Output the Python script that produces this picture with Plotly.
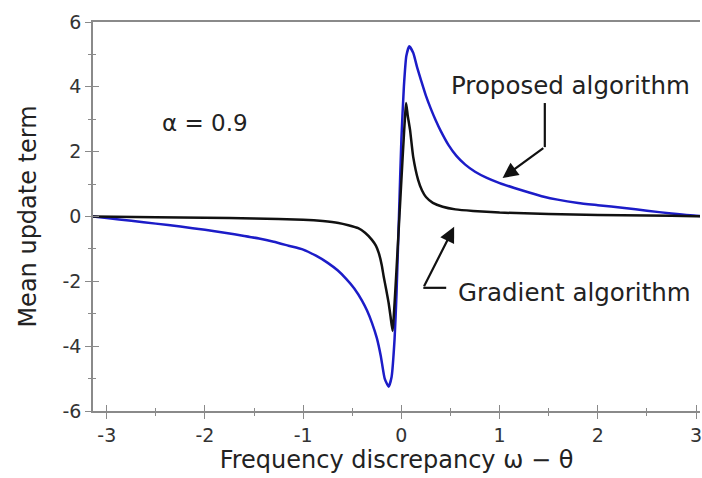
import plotly.graph_objects as go

# Proposed algorithm (blue)
x_proposed = [-3.14, -3.0, -2.75, -2.5, -2.25, -2.0, -1.8, -1.6, -1.45, -1.3, -1.15, -1.0,
              -0.87, -0.75, -0.65, -0.56, -0.48, -0.4, -0.35, -0.3, -0.25, -0.21, -0.17,
              -0.13, -0.1, -0.07, -0.05, -0.025, 0.0, 0.025, 0.05, 0.08, 0.12, 0.16, 0.2,
              0.25, 0.3, 0.35, 0.4, 0.48, 0.56, 0.65, 0.75, 0.87, 1.0, 1.15, 1.3, 1.45,
              1.59, 1.8, 2.0, 2.27, 2.5, 2.75, 2.94, 3.14]
y_proposed = [0.0, -0.05, -0.13, -0.22, -0.31, -0.41, -0.5, -0.6, -0.68, -0.78, -0.9, -1.02,
              -1.21, -1.43, -1.66, -1.93, -2.22, -2.6, -2.9, -3.28, -3.75, -4.3, -5.0,
              -5.25, -4.95, -3.8, -2.4, 0.0, 2.4, 4.0, 4.95, 5.25, 5.05, 4.6, 4.2,
              3.72, 3.32, 2.96, 2.64, 2.2, 1.87, 1.6, 1.38, 1.19, 1.03, 0.88, 0.74, 0.61,
              0.52, 0.42, 0.35, 0.26, 0.18, 0.09, 0.035, 0.0]

# Gradient algorithm (black)
x_gradient = [-3.14, -2.5, -2.0, -1.5, -1.0, -0.8, -0.64, -0.54, -0.44, -0.37, -0.3, -0.26,
              -0.23, -0.2, -0.18, -0.155, -0.13, -0.11, -0.09, 0.048, 0.065, 0.088, 0.12,
              0.17, 0.21, 0.25, 0.32, 0.42, 0.55, 0.73, 1.0, 1.5, 2.0, 2.5, 3.0, 3.14]
y_gradient = [0.0, -0.02, -0.04, -0.06, -0.1, -0.14, -0.2, -0.27, -0.36, -0.5, -0.72, -0.9,
              -1.13, -1.5, -1.86, -2.25, -2.67, -3.1, -3.53, 3.5, 3.1, 2.67, 1.84,
              1.13, 0.8, 0.6, 0.42, 0.3, 0.22, 0.17, 0.12, 0.08, 0.05, 0.03, 0.01, 0.0]

x_ticks = [-3, -2, -1, 0, 1, 2, 3]
x_ticktext = ["-3", "-2", "-1", "0", "1", "2", "3"]
y_ticks = [-6, -4, -2, 0, 2, 4, 6]
y_ticktext = ["-6", "-4", "-2", "0", "2", "4", "6"]

FONT = "DejaVu Sans"
TXT = "#222222"
AX = "#8a8a8a"

fig = go.Figure()
fig.add_trace(go.Scatter(x=x_proposed, y=y_proposed, mode="lines",
                         line=dict(color="#1c1cc8", width=2.5, shape="spline", smoothing=0.5),
                         showlegend=False))
fig.add_trace(go.Scatter(x=x_gradient, y=y_gradient, mode="lines",
                         line=dict(color="#111111", width=2.5, shape="spline", smoothing=0.4),
                         showlegend=False))
# empty trace to activate overlay axes (inside half of crossing ticks)
fig.add_trace(go.Scatter(x=[], y=[], xaxis="x2", yaxis="y2", showlegend=False))

xr = [-3.14, 3.04]
yr = [-6, 6]

fig.update_layout(
    width=702, height=478,
    margin=dict(l=93, r=0, t=22, b=67),
    plot_bgcolor="white", paper_bgcolor="white",
    font=dict(family=FONT, color=TXT),
    xaxis=dict(range=xr, tickvals=x_ticks, ticktext=x_ticktext, ticks="outside", ticklen=6,
               tickwidth=1.3, tickcolor=AX, showline=True, linecolor=AX, linewidth=1.5,
               mirror=True, showgrid=False, zeroline=False, ticklabeloverflow="allow",
               minor=dict(dtick=0.5, ticks="outside", ticklen=3, tickcolor=AX, tickwidth=1.2),
               tickfont=dict(size=19, color="#333333"),
               title=dict(text="Frequency discrepancy ω − θ", font=dict(size=24, color=TXT),
                          standoff=5)),
    yaxis=dict(range=yr, tickvals=y_ticks, ticktext=y_ticktext, ticks="outside", ticklen=6,
               tickwidth=1.3, tickcolor=AX, showline=True, linecolor=AX, linewidth=1.5,
               showgrid=False, zeroline=False,
               minor=dict(dtick=1, ticks="outside", ticklen=3, tickcolor=AX, tickwidth=1.2),
               tickfont=dict(size=19, color="#333333"),
               title=dict(text="Mean update term", font=dict(size=24, color=TXT), standoff=19)),
    xaxis2=dict(range=xr, overlaying="x", anchor="y", side="bottom", tickvals=x_ticks,
                ticks="inside", ticklen=6, tickwidth=1.3, tickcolor=AX, showticklabels=False,
                showline=False, showgrid=False, zeroline=False,
                minor=dict(dtick=0.5, ticks="inside", ticklen=3, tickcolor=AX, tickwidth=1.2)),
    yaxis2=dict(range=yr, overlaying="y", anchor="x", side="left", tickvals=y_ticks,
                ticks="inside", ticklen=6, tickwidth=1.3, tickcolor=AX, showticklabels=False,
                showline=False, showgrid=False, zeroline=False,
                minor=dict(dtick=1, ticks="inside", ticklen=3, tickcolor=AX, tickwidth=1.2)),
)

# text labels
fig.add_annotation(x=1.72, y=4.03, text="Proposed algorithm", showarrow=False,
                   font=dict(size=24.5, color=TXT, family=FONT))
fig.add_annotation(x=1.76, y=-2.33, text="Gradient algorithm", showarrow=False,
                   font=dict(size=24.5, color=TXT, family=FONT))
fig.add_annotation(x=-2.0, y=2.89, text="α = 0.9", showarrow=False,
                   font=dict(size=23, color=TXT, family=FONT))

# bent arrows
fig.add_shape(type="line", x0=1.46, y0=3.5, x1=1.46, y1=2.14,
              line=dict(color="#111111", width=2.2))
fig.add_annotation(x=1.03, y=1.19, ax=1.46, ay=2.14, axref="x", ayref="y", xref="x", yref="y",
                   showarrow=True, arrowhead=2, arrowsize=1.4, arrowwidth=2.2,
                   arrowcolor="#111111", text="")
fig.add_shape(type="line", x0=0.456, y0=-2.2, x1=0.223, y1=-2.2,
              line=dict(color="#111111", width=2.2))
fig.add_annotation(x=0.537, y=-0.32, ax=0.223, ay=-2.2, axref="x", ayref="y", xref="x", yref="y",
                   showarrow=True, arrowhead=2, arrowsize=1.4, arrowwidth=2.2,
                   arrowcolor="#111111", text="")

fig.write_html("out.html")
